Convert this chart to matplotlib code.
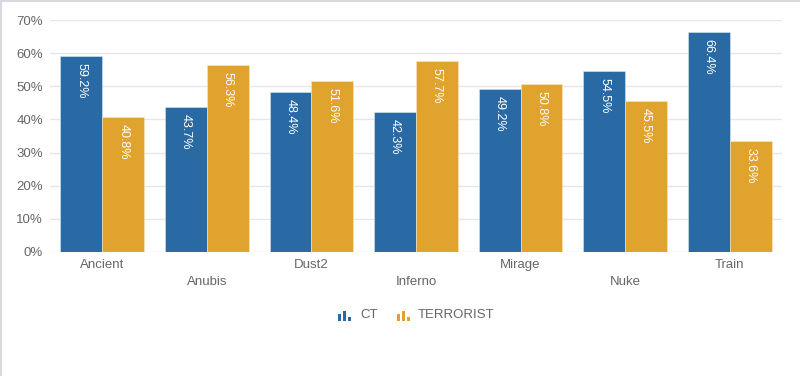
import matplotlib.pyplot as plt
import matplotlib.patches as mpatches
import numpy as np

plt.rcParams['font.family'] = ['Liberation Sans', 'DejaVu Sans']

# datos
mapas = ['Ancient', 'Anubis', 'Dust2', 'Inferno', 'Mirage', 'Nuke', 'Train']
ct = [59.2, 43.7, 48.4, 42.3, 49.2, 54.5, 66.4]
terrorist = [40.8, 56.3, 51.6, 57.7, 50.8, 45.5, 33.6]
series = ['CT', 'TERRORIST']

azul = '#2a6aa4'
naranja = '#e0a32e'
gris = '#666666'

W, H = 800, 376
fig = plt.figure(figsize=(W / 100, H / 100), dpi=100)
ax = fig.add_axes([50 / W, 124 / H, 732 / W, 232 / H])

x = np.arange(len(mapas))
ancho = 0.4
b1 = ax.bar(x - ancho / 2, ct, ancho, color=azul, edgecolor='#dbe6f0', linewidth=0.4, zorder=3)
b2 = ax.bar(x + ancho / 2, terrorist, ancho, color=naranja, edgecolor='#f7e6c4', linewidth=0.4, zorder=3)

# etiquetas dentro de las barras, rotadas
for barras, valores in [(b1, ct), (b2, terrorist)]:
    for b, v in zip(barras, valores):
        ax.annotate(f'{v}%', (b.get_x() + b.get_width() / 2, v), xytext=(0, -5),
                    textcoords='offset points', rotation=-90, ha='center', va='top',
                    color='white', fontsize=9, zorder=4)

ax.set_xlim(-0.5, len(mapas) - 0.5)
ax.set_ylim(0, 70)
ax.set_yticks(range(0, 71, 10))
ax.set_yticklabels([f'{v}%' for v in range(0, 71, 10)])
ax.grid(axis='y', color='#e6e6e6', linewidth=1, zorder=0)
for s in ax.spines.values():
    s.set_visible(False)
ax.tick_params(axis='both', length=0, colors=gris, labelsize=9.5)
ax.tick_params(axis='y', pad=5)

ax.set_xticks(x)
ax.set_xticklabels(mapas)
# etiquetas alternadas
for i, t in enumerate(ax.xaxis.get_major_ticks()):
    t.set_pad(5 if i % 2 == 0 else 17)

# leyenda con iconos de barras
def icono(x0, color):
    for dx, alto in [(0, 7), (5, 10), (10, 4)]:
        fig.patches.append(mpatches.Rectangle(((x0 + dx) / W, (H - 321) / H), 3 / W, alto / H,
                                              transform=fig.transFigure, facecolor=color,
                                              edgecolor='none'))

icono(338, azul)
fig.text(360 / W, (H - 315) / H, series[0], color=gris, fontsize=9.5, va='center')
icono(397, naranja)
fig.text(418 / W, (H - 315) / H, series[1], color=gris, fontsize=9.5, va='center')

# borde gris
fig.add_artist(plt.Line2D([0.5 / W, 0.5 / W], [0, 1], color='#d8d8de', linewidth=1.5, transform=fig.transFigure))
fig.add_artist(plt.Line2D([0, 1], [1 - 1 / H, 1 - 1 / H], color='#d8d8de', linewidth=1.5, transform=fig.transFigure))

plt.savefig('out.png', dpi=100)
